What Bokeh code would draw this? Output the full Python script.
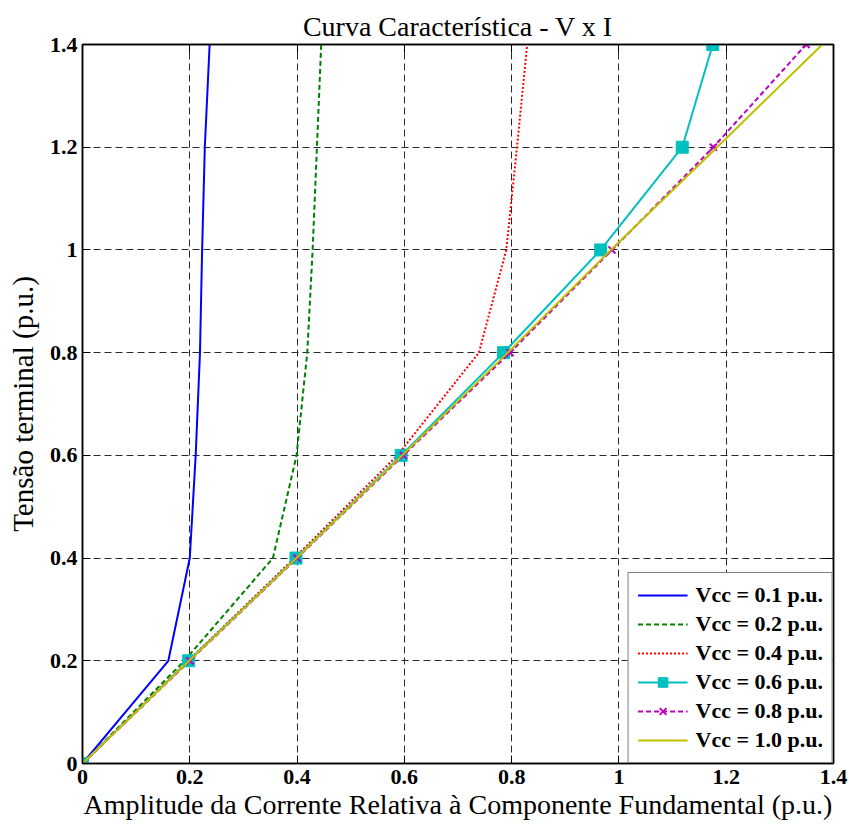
from bokeh.plotting import figure
from bokeh.models import (LinearAxis, FixedTicker, CustomJSTickFormatter, Legend,
                          LegendItem, Range1d)
from bokeh.embed import file_html
from bokeh.resources import INLINE

# ---- data ----
v_terminal = [0.0, 0.2, 0.4, 0.6, 0.8, 1.0, 1.2, 1.4]
i_vcc_01 = [0.0, 0.160, 0.200, 0.211, 0.219, 0.223, 0.228, 0.237]
i_vcc_02 = [0.0, 0.190, 0.355, 0.399, 0.419, 0.429, 0.437, 0.445]
i_vcc_04 = [0.0, 0.197, 0.395, 0.587, 0.739, 0.790, 0.810, 0.829]
i_vcc_06 = [0.0, 0.198, 0.398, 0.594, 0.785, 0.966, 1.118, 1.175]
i_vcc_08 = [0.0, 0.200, 0.400, 0.598, 0.797, 0.987, 1.176, 1.349]
i_vcc_10 = [0.0, 0.199, 0.399, 0.596, 0.793, 0.985, 1.183, 1.379]
series_labels = ["Vcc = 0.1 p.u.", "Vcc = 0.2 p.u.", "Vcc = 0.4 p.u.",
                 "Vcc = 0.6 p.u.", "Vcc = 0.8 p.u.", "Vcc = 1.0 p.u."]
axis_ticks = [0.0, 0.2, 0.4, 0.6, 0.8, 1.0, 1.2, 1.4]

title_text = "Curva Característica - V x I"
x_label = "Amplitude da Corrente Relativa à Componente Fundamental (p.u.)"
y_label = "Tensão terminal (p.u.)"

SERIF = "Liberation Serif"

p = figure(width=849, height=826, output_backend="svg", toolbar_location=None,
           x_range=Range1d(0, 1.4), y_range=Range1d(0, 1.4),
           min_border_left=82, min_border_right=16, min_border_top=44,
           min_border_bottom=63, title=title_text)
p.background_fill_color = "white"
p.border_fill_color = "white"
p.outline_line_color = "black"
p.outline_line_width = 1.5

p.title.align = "center"
p.title.text_font = SERIF
p.title.text_font_size = "28px"
p.title.text_font_style = "normal"
p.title.text_color = "black"
p.title.standoff = 6

fmt_code = "const s = tick.toFixed(1); return s.endsWith('.0') ? s.slice(0, -2) : s;"

for ax in (p.xaxis[0], p.yaxis[0]):
    ax.ticker = FixedTicker(ticks=axis_ticks)
    ax.formatter = CustomJSTickFormatter(code=fmt_code)
    ax.major_tick_in = 8
    ax.major_tick_out = 0
    ax.minor_tick_in = 0
    ax.minor_tick_out = 0
    ax.axis_line_width = 1.5
    ax.axis_line_color = "black"
    ax.major_tick_line_color = "black"
    ax.major_label_text_font = SERIF
    ax.major_label_text_font_style = "bold"
    ax.major_label_text_font_size = "22px"
    ax.major_label_text_color = "black"
    ax.axis_label_text_font = SERIF
    ax.axis_label_text_font_style = "normal"
    ax.axis_label_text_color = "black"

p.xaxis.axis_label = x_label
p.xaxis.axis_label_text_font_size = "28px"
p.xaxis.major_label_standoff = 6
p.xaxis.axis_label_standoff = 2
p.yaxis.axis_label = y_label
p.yaxis.axis_label_text_font_size = "29px"
p.yaxis.major_label_standoff = 5
p.yaxis.axis_label_standoff = 8

for loc in ("above", "right"):
    ax = LinearAxis(ticker=FixedTicker(ticks=axis_ticks),
                    formatter=CustomJSTickFormatter(code="return '';"),
                    major_tick_in=8, major_tick_out=0,
                    minor_tick_in=0, minor_tick_out=0,
                    major_label_standoff=0, axis_line_width=1.5,
                    axis_line_color="black", major_tick_line_color="black")
    p.add_layout(ax, loc)

for g in (p.xgrid[0], p.ygrid[0]):
    g.grid_line_color = "#2a2a2a"
    g.grid_line_dash = "7 4"
    g.grid_line_width = 1

items = []
r = p.line(i_vcc_01, v_terminal, line_color="#0000ff", line_width=2)
items.append(LegendItem(label=series_labels[0], renderers=[r]))
r = p.line(i_vcc_02, v_terminal, line_color="#008000", line_width=2, line_dash="5 3")
items.append(LegendItem(label=series_labels[1], renderers=[r]))
r = p.line(i_vcc_04, v_terminal, line_color="#ff0000", line_width=2, line_dash="2 2")
items.append(LegendItem(label=series_labels[2], renderers=[r]))
r1 = p.line(i_vcc_06, v_terminal, line_color="#00bfbf", line_width=2)
r2 = p.scatter(i_vcc_06, v_terminal, marker="square", size=12,
               fill_color="#00bfbf", line_color="#00bfbf")
items.append(LegendItem(label=series_labels[3], renderers=[r1, r2]))
r1 = p.line(i_vcc_08, v_terminal, line_color="#bf00bf", line_width=2, line_dash="5 3")
r2 = p.scatter(i_vcc_08, v_terminal, marker="x", size=10,
               line_color="#bf00bf", line_width=2)
items.append(LegendItem(label=series_labels[4], renderers=[r1, r2]))
r = p.line(i_vcc_10, v_terminal, line_color="#bfbf00", line_width=2)
items.append(LegendItem(label=series_labels[5], renderers=[r]))

legend = Legend(items=items, location="bottom_right")
legend.margin = 0
legend.padding = 9
legend.spacing = 3
legend.label_height = 24
legend.glyph_height = 24
legend.glyph_width = 50
legend.label_standoff = 8
legend.label_text_font = SERIF
legend.label_text_font_style = "bold"
legend.label_text_font_size = "22px"
legend.label_text_color = "black"
legend.border_line_color = "black"
legend.border_line_width = 1.5
legend.background_fill_color = "white"
legend.background_fill_alpha = 1.0
p.add_layout(legend)

open("out.html", "w").write(file_html(p, INLINE))
